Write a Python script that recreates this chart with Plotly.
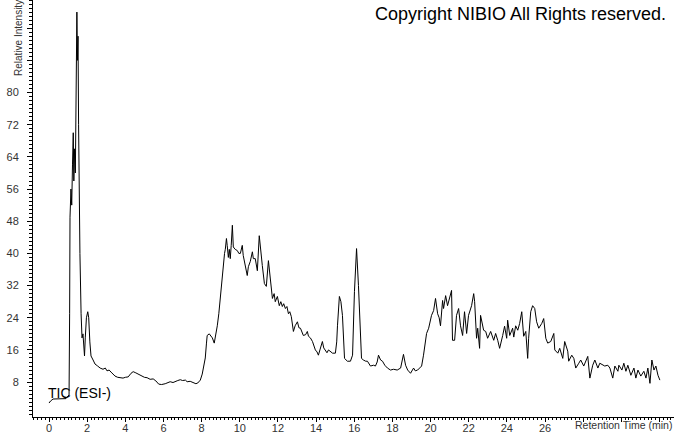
import plotly.graph_objects as go

rt = [0.00, 0.08, 0.21, 0.47, 0.70, 0.89, 0.95, 1.00, 1.05, 1.08, 1.10, 1.15, 1.19, 1.23, 1.27, 1.30, 1.34, 1.38,
      1.42, 1.46, 1.49, 1.52, 1.55, 1.58, 1.62, 1.68, 1.73, 1.78, 1.82, 1.86, 1.90, 1.96, 2.03, 2.08, 2.14, 2.20,
      2.31, 2.41, 2.55, 2.68, 2.83, 2.95, 3.04, 3.15, 3.25, 3.35, 3.46, 3.60, 3.75, 3.88, 4.00, 4.15, 4.30, 4.41,
      4.55, 4.70, 4.85, 5.00, 5.14, 5.30, 5.46, 5.60, 5.75, 5.90, 6.09, 6.25, 6.35, 6.50, 6.61, 6.75, 6.88, 7.00,
      7.15, 7.24, 7.40, 7.56, 7.70, 7.80, 7.93, 8.03, 8.12, 8.19, 8.25, 8.29, 8.40, 8.50, 8.56, 8.66, 8.75, 8.82,
      8.90, 8.98, 9.08, 9.13, 9.20, 9.24, 9.30, 9.34, 9.40, 9.45, 9.50, 9.55, 9.61, 9.66, 9.76, 9.87, 9.95, 10.03,
      10.13, 10.18, 10.29, 10.39, 10.45, 10.55, 10.66, 10.71, 10.81, 10.92, 11.02, 11.10, 11.18, 11.29, 11.39,
      11.50, 11.60, 11.71, 11.80, 11.86, 11.97, 12.07, 12.15, 12.23, 12.30, 12.39, 12.47, 12.55, 12.62, 12.70,
      12.81, 12.90, 13.02, 13.10, 13.18, 13.25, 13.33, 13.45, 13.54, 13.60, 13.70, 13.81, 13.96, 14.05, 14.12,
      14.20, 14.33, 14.40, 14.49, 14.57, 14.65, 14.75, 14.86, 15.01, 15.08, 15.12, 15.22, 15.30, 15.38, 15.49,
      15.64, 15.80, 15.91, 16.01, 16.12, 16.22, 16.38, 16.48, 16.60, 16.69, 16.85, 17.01, 17.11, 17.20, 17.27,
      17.38, 17.48, 17.60, 17.74, 17.90, 18.06, 18.25, 18.43, 18.58, 18.69, 18.80, 18.95, 19.11, 19.20, 19.32,
      19.45, 19.53, 19.63, 19.79, 19.90, 20.05, 20.16, 20.26, 20.37, 20.45, 20.52, 20.63, 20.68, 20.79, 20.89,
      21.00, 21.10, 21.15, 21.26, 21.36, 21.47, 21.57, 21.68, 21.78, 21.89, 21.99, 22.15, 22.26, 22.31, 22.41,
      22.47, 22.57, 22.62, 22.78, 22.89, 22.99, 23.15, 23.31, 23.41, 23.52, 23.62, 23.78, 23.88, 23.99, 24.04,
      24.15, 24.30, 24.36, 24.46, 24.57, 24.67, 24.78, 24.88, 24.99, 25.09, 25.14, 25.25, 25.35, 25.46, 25.56,
      25.67, 25.83, 25.93, 26.04, 26.14, 26.30, 26.46, 26.51, 26.67, 26.77, 26.93, 27.03, 27.19, 27.24, 27.40,
      27.51, 27.61, 27.77, 27.87, 28.03, 28.14, 28.24, 28.35, 28.50, 28.61, 28.77, 28.87, 29.03, 29.13, 29.29,
      29.40, 29.55, 29.66, 29.82, 29.87, 30.03, 30.13, 30.24, 30.34, 30.50, 30.66, 30.76, 30.87, 31.02, 31.18,
      31.29, 31.39, 31.50, 31.60, 31.71, 31.81, 31.92, 32.02]

intensity = [2.8, 3.3, 3.8, 3.8, 3.8, 3.9, 4.3, 4.6, 4.8, 25, 49, 56, 52, 62, 70, 58, 66, 60,
             87, 100, 88, 94, 72, 53, 40, 25, 19, 20, 15, 14.5, 19, 24, 25.5, 24, 18, 14.5,
             13.5, 12.5, 12, 11.5, 11.2, 11.5, 10.8, 11, 10.5, 10, 9.5, 9.2, 9, 9, 9.2, 9.3, 10.2, 10.6,
             10.3, 9.9, 9.7, 9.2, 9.1, 8.7, 8.8, 8.3, 7.5, 7.4, 7.6, 7.8, 8.1, 7.9, 8.2, 8.4, 8.6, 8.4,
             8.5, 8.1, 8.2, 7.9, 7.6, 7.8, 8.5, 10, 12, 14, 17.5, 19.6, 20, 19.5, 19, 17.7, 20, 22,
             25, 29, 34.5, 37.5, 40, 41, 43.7, 42, 39, 41, 38.7, 42, 47, 41.6, 41, 40.7, 40, 40,
             42, 39.5, 37, 34.5, 36.7, 38, 40.4, 38.7, 38.7, 35.7, 44.4, 40, 37, 32.5, 31.8,
             38.2, 33.7, 28.8, 30, 28, 29.3, 27, 28, 26.8, 27.5, 26.3, 26.8, 25, 25.5, 24.3,
             20.6, 22, 23, 21.5, 21.4, 20.5, 19.6, 19.8, 20.6, 19.4, 19, 18.1, 16, 15.5, 14.7,
             16, 18.1, 16.5, 15.7, 15.3, 16, 15.5, 15.2, 15.2, 18, 22, 29.3, 28, 24.6, 13.9,
             13.2, 13.2, 14.7, 30.5, 41.2, 32, 13.9, 13.5, 13.2, 13.2, 12, 12.2, 12, 13, 14.7,
             13.5, 13.2, 12.2, 11.5, 11, 11.2, 11, 11.5, 14.9, 12.2, 11, 10.2, 11.5, 10.8, 11,
             11.5, 12, 14.7, 20.1, 21.4, 24.6, 25.8, 28.8, 25, 24, 22, 28.3, 26.3, 29.5, 27,
             29.3, 30.8, 18.4, 18.4, 24.6, 26.3, 22, 19.6, 25.5, 20.1, 24.6, 27, 30, 28, 18.9,
             21.4, 16.4, 24.6, 20.9, 20.6, 18.9, 20.6, 18.4, 20.1, 18.4, 16.4, 19.6, 21.9, 18.9, 23.4,
             19.6, 21.4, 19.2, 22, 20.9, 22.6, 25.5, 19.4, 20.6, 13.9, 18.9, 25.5, 27, 26.3, 23,
             21.4, 22.6, 23.8, 18.9, 17.7, 18.1, 20.1, 16, 15.2, 16.4, 13.9, 18.1, 15.7, 13.2, 14.7,
             13.9, 11.5, 12.7, 13.5, 12, 13.2, 14.4, 9, 12.2, 13.5, 11.5, 12.7, 12.2, 12, 12.2,
             11.5, 9, 12, 10.7, 12.2, 11, 12.7, 10.7, 12.2, 9.7, 11.5, 9, 11, 9.5, 10.7,
             9, 11.5, 7.7, 13.5, 11, 12, 9.7, 8.5]

x_tick_vals = [0, 2, 4, 6, 8, 10, 12, 14, 16, 18, 20, 22, 24, 26, 28, 30, 32]
x_tick_text = ["0", "2", "4", "6", "8", "10", "12", "14", "16", "18", "20", "22", "24", "26", "", "", ""]
y_tick_vals = [8, 16, 24, 32, 40, 48, 56, 64, 72, 80, 88, 96]
y_tick_text = ["8", "16", "24", "32", "40", "48", "56", "64", "72", "80", "", ""]

fig = go.Figure()
fig.add_trace(go.Scatter(x=rt, y=intensity, mode="lines",
                         line=dict(color="black", width=1), hoverinfo="skip"))

tickfont = dict(family="Liberation Sans, Arial, sans-serif", size=11, color="#333")

fig.update_layout(
    width=674, height=434,
    margin=dict(l=33, r=0, t=0, b=15),
    paper_bgcolor="white", plot_bgcolor="white",
    showlegend=False,
    xaxis=dict(range=[-0.84, 32.76], tickmode="array", tickvals=x_tick_vals, ticktext=x_tick_text,
               ticks="outside", ticklen=4, tickcolor="black", showgrid=False, zeroline=False,
               showline=True, linecolor="black", linewidth=1, tickfont=tickfont, ticklabelstandoff=-3,
               minor=dict(dtick=0.2, tick0=0, ticks="outside", ticklen=2, tickcolor="black", showgrid=False)),
    yaxis=dict(range=[-0.67, 103], tickmode="array", tickvals=y_tick_vals, ticktext=y_tick_text,
               ticks="outside", ticklen=5, tickcolor="black", showgrid=False, zeroline=False,
               showline=True, linecolor="black", linewidth=1, tickfont=tickfont, ticklabelstandoff=6,
               minor=dict(dtick=1, tick0=0, ticks="outside", ticklen=3, tickcolor="black", showgrid=False)),
    annotations=[
        dict(text="Copyright NIBIO All Rights reserved.", xref="paper", yref="paper",
             x=1, y=1, xanchor="right", yanchor="top", xshift=-6, yshift=-2, showarrow=False,
             font=dict(family="Liberation Sans, Arial, sans-serif", size=18, color="black")),
        dict(text="Retention Time (min)", xref="paper", yref="paper", x=1, y=0,
             xanchor="right", yanchor="top", xshift=0, yshift=0, showarrow=False,
             font=dict(family="Liberation Sans, Arial, sans-serif", size=10.5, color="#333")),
        dict(text="Relative Intensity", xref="paper", yref="paper", x=0, y=1,
             xanchor="center", yanchor="middle", xshift=-15, yshift=-38, textangle=-90, showarrow=False,
             font=dict(family="Liberation Sans, Arial, sans-serif", size=10, color="#333")),
        dict(text="TIC (ESI-)", xref="x", yref="y", x=-0.15, y=5.3, xanchor="left", yanchor="middle",
             showarrow=False, font=dict(family="Liberation Sans, Arial, sans-serif", size=14, color="black")),
    ],
)

fig.write_html("out.html", config={"displayModeBar": False},
               post_script="document.body.style.margin='0';document.body.style.overflow='hidden';")
